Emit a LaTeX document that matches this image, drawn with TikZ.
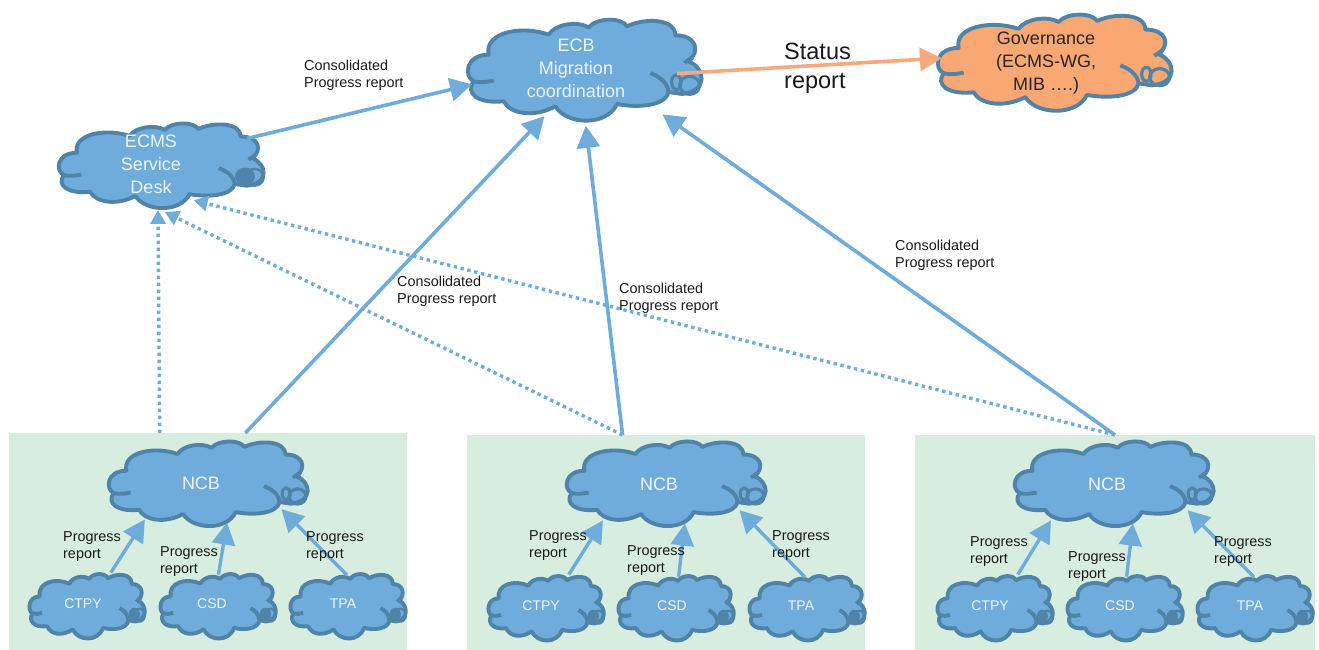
\documentclass[tikz,border=0pt]{standalone}
\usepackage{fontspec}
\setmainfont{Liberation Sans}
\usetikzlibrary{arrows.meta,shapes.geometric}
\definecolor{cloudblue}{HTML}{6FACDC}
\definecolor{cloudedge}{HTML}{5083A8}
\definecolor{cloudorange}{HTML}{F9A874}
\definecolor{boxgreen}{HTML}{D6EDE0}
\definecolor{linkblue}{HTML}{6FACDC}
\definecolor{linkorange}{HTML}{F6A97C}
\definecolor{paletext}{HTML}{EDF5FB}
\tikzset{
  cloudline/.style={draw=cloudedge,line width=3.9pt,line join=round},
  cloudlabel/.style={shape=ellipse,inner sep=-40pt,outer sep=0pt,align=center,text=paletext},
  bigtext/.style={font=\fontsize{18}{23}\selectfont},
  smalltext/.style={font=\fontsize{14}{17}\selectfont},
  greenbox/.style={shape=rectangle,fill=boxgreen,draw=none,inner sep=0pt,outer sep=0pt},
  note/.style={anchor=west,align=left,inner sep=0pt,text=black!90,font=\fontsize{14.4}{17}\selectfont},
  solidlink/.style={draw=linkblue,line width=3.6pt,-{Triangle[length=22pt,width=23pt]}},
  dottedlink/.style={draw=linkblue,line width=3.4pt,dash pattern=on 3.4pt off 3.6pt,-{Triangle[length=14pt,width=15pt]}},
  orangelink/.style={draw=linkorange,line width=3.6pt,-{Triangle[length=22pt,width=23pt]}}
}
\newcommand{\cloudbody}[6]{%
  \pgfmathsetmacro{\sx}{#4/705}\pgfmathsetmacro{\sy}{#5/315}%
  \begin{scope}[shift={(#2,#3)},x=\sx pt,y=-\sy pt]
    \path[cloudline,fill=#1]
      (20,190) .. controls (-10,175) and (-5,110) .. (65,110)
      .. controls (50,45) and (160,20) .. (245,50)
      .. controls (265,18) and (330,8) .. (365,28)
      .. controls (390,-2) and (465,-2) .. (480,25)
      .. controls (530,0) and (625,0) .. (625,52)
      .. controls (690,52) and (700,100) .. (665,130)
      .. controls (715,150) and (725,220) .. (645,228)
      -- (605,222)
      .. controls (595,265) and (510,270) .. (450,258)
      .. controls (420,325) and (300,322) .. (265,265)
      .. controls (200,300) and (130,288) .. (110,250)
      .. controls (30,258) and (-5,225) .. (20,190) -- cycle;
    \draw[cloudline] (80,188) .. controls (60,192) and (40,195) .. (20,190);
    \draw[cloudline] (550,165) .. controls (575,175) and (600,190) .. (605,222);
    \draw[cloudline] (652,135) -- (675,118);
    #6
  \end{scope}%
}
\newcommand{\rings}{\draw[cloudline,line width=3.2pt] (668,202) ellipse (30 and 27);
    \draw[cloudline,line width=3.2pt] (628,193) ellipse (14 and 22);}
\newcommand{\blob}{\draw[cloudline,line width=2.4pt] (672,198) ellipse (32 and 30);
    \fill[cloudedge] (640,195) ellipse (34 and 32);}
\begin{document}
\begin{tikzpicture}[x=1pt,y=-1pt]
\useasboundingbox (0,0) rectangle (1319,650);
\node[greenbox,minimum width=398pt,minimum height=217pt] (boxA) at (208,541.5) {};
\node[greenbox,minimum width=398pt,minimum height=215pt] (boxB) at (666,542.5) {};
\node[greenbox,minimum width=400pt,minimum height=215pt] (boxC) at (1115,542.5) {};
\cloudbody{cloudblue}{467}{18}{235}{105}{\rings}
\cloudbody{cloudorange}{937}{13}{235}{100}{\rings}
\cloudbody{cloudblue}{58}{122}{206}{88}{\blob}
\foreach \cx in {108,566,1014} {\cloudbody{cloudblue}{\cx}{440}{200}{88}{\rings}}
\cloudbody{cloudblue}{29}{573}{116}{67}{\blob}
\cloudbody{cloudblue}{160}{573}{116}{67}{\blob}
\cloudbody{cloudblue}{290}{573}{116}{67}{\blob}
\cloudbody{cloudblue}{488}{575}{116}{67}{\blob}
\cloudbody{cloudblue}{618}{575}{116}{67}{\blob}
\cloudbody{cloudblue}{749}{575}{116}{67}{\blob}
\cloudbody{cloudblue}{937}{575}{116}{67}{\blob}
\cloudbody{cloudblue}{1067}{575}{116}{67}{\blob}
\cloudbody{cloudblue}{1197}{575}{116}{67}{\blob}
\node[cloudlabel,bigtext,minimum width=235pt,minimum height=105pt] (ecb) at (576,68.5) {ECB\\Migration\\coordination};
\node[cloudlabel,bigtext,text=black!85,minimum width=235pt,minimum height=100pt] (gov) at (1046,63) {Governance\\(ECMS-WG,\\MIB ….)};
\node[cloudlabel,bigtext,minimum width=206pt,minimum height=88pt] (desk) at (151,164) {ECMS\\Service\\Desk};
\node[cloudlabel,bigtext,minimum width=200pt,minimum height=88pt] (ncbA) at (201,483) {NCB};
\node[cloudlabel,bigtext,minimum width=200pt,minimum height=88pt] (ncbB) at (659,484) {NCB};
\node[cloudlabel,bigtext,minimum width=200pt,minimum height=88pt] (ncbC) at (1107,484) {NCB};
\foreach \nm/\lb/\tx/\ty in {ctpyA/CTPY/83/604,csdA/CSD/212/604,tpaA/TPA/343/604,ctpyB/CTPY/541/606,csdB/CSD/672/606,tpaB/TPA/801/606,ctpyC/CTPY/990/606,csdC/CSD/1120/606,tpaC/TPA/1250/606}
  {\node[cloudlabel,smalltext,minimum width=116pt,minimum height=67pt] (\nm) at (\tx,\ty) {\lb};}
\draw[dottedlink,shorten >=2pt] (boxA.114.7) -- (desk.279);
\draw[dottedlink,shorten >=9.3pt] (boxB.112.7) -- (desk.277.3);
\draw[dottedlink,shorten >=-8.3pt] (boxC.north) -- (desk.323.8);
\draw[solidlink,shorten <=9pt,shorten >=-7pt] (desk.15.6) -- (ecb.189.2);
\draw[solidlink,shorten >=-3.5pt] (boxA.71.2) -- (ecb.236.6);
\draw[solidlink,shorten >=5pt] (boxB.112.7) -- (ecb.280.9);
\draw[solidlink,shorten >=11pt] (boxC.north) -- (ecb.333.2);
\draw[orangelink,shorten <=-16pt,shorten >=-13pt] (ecb.358.9) -- (gov.178.4);
\foreach \r in {A,B,C} {
  \draw[solidlink,line width=3.4pt,shorten <=2pt] (ctpy\r.48.9) -- (ncb\r.213.9);
  \draw[solidlink,line width=3.4pt,shorten <=-4pt,shorten >=-3pt] (csd\r.78.3) -- (ncb\r.301);
  \draw[solidlink,line width=3.4pt,shorten <=-6.5pt] (tpa\r.91) -- (ncb\r.342.6);
}
\node[note] (n1) at (304,75.5) {Consolidated\\Progress report};
\node[note] (n2) at (397,291.5) {Consolidated\\Progress report};
\node[note] (n3) at (619,298.5) {Consolidated\\Progress report};
\node[note] (n4) at (895,255.5) {Consolidated\\Progress report};
\node[note,font=\fontsize{23.5}{29}\selectfont] (n5) at (784,68) {Status\\report};
\foreach \nm/\px/\py in {p1/63/547,p2/160/562,p3/306/547,p4/529/546,p5/627/561,p6/772/546,p7/970/552,p8/1068/567,p9/1214/552}
  {\node[note] (\nm) at (\px,\py) {Progress\\report};}
\end{tikzpicture}
\end{document}
